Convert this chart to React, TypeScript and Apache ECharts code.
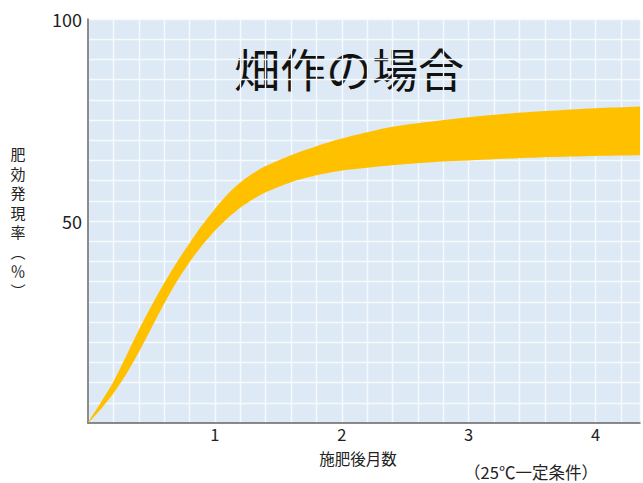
import React, { useEffect, useRef } from "react";
import * as echarts from "echarts";

// months after fertilization
const MONTHS = [0, 0.1, 0.2, 0.3, 0.4, 0.5, 0.6, 0.7, 0.8, 0.9, 1.0, 1.1, 1.2, 1.3, 1.4, 1.6, 1.8, 2.0, 2.4, 2.8, 3.2, 3.6, 4.0, 4.4, 4.6];
// upper edge of the band (%)
const UPPER = [0, 5.0, 10.2, 16.5, 23.0, 29.0, 34.6, 39.8, 44.5, 49.0, 53.0, 56.6, 59.5, 61.8, 63.6, 66.3, 68.5, 70.4, 73.3, 75.0, 76.3, 77.2, 77.9, 78.4, 78.6];
// lower edge of the band (%)
const LOWER = [0, 3.4, 7.3, 12.0, 17.5, 23.5, 29.5, 35.0, 39.8, 44.0, 47.6, 50.7, 53.3, 55.4, 57.1, 59.6, 61.3, 62.5, 63.8, 64.7, 65.3, 65.8, 66.1, 66.3, 66.4];

const X_LABELS = [1, 2, 3, 4];
const Y_LABELS = [50, 100];

const TITLE = "畑作の場合";
const Y_NAME = ["肥", "効", "発", "現", "率", "︵", "％", "︶"];
const X_NAME = "施肥後月数";
const NOTE = "（25℃一定条件）";

const FONT = '"Noto Sans CJK JP", "Noto Sans", sans-serif';

export default function App() {
  const ref = useRef<HTMLDivElement>(null);

  useEffect(() => {
    document.body.style.margin = "0";
    if (!ref.current) return;
    const chart = echarts.init(ref.current, null, { renderer: "svg" });

    const bandData = MONTHS.map((m, i) => [m, LOWER[i], UPPER[i]]);

    chart.setOption({
      animation: false,
      backgroundColor: "#ffffff",
      grid: {
        left: 88,
        top: 19,
        right: 0,
        bottom: 60,
        show: true,
        backgroundColor: "#DDEAF5",
        borderWidth: 0,
      },
      xAxis: {
        type: "value",
        min: 0,
        max: 4.35,
        interval: 0.2,
        axisLine: { show: true, onZero: false, lineStyle: { color: "#666666", width: 1.5 } },
        axisTick: { show: false },
        splitLine: { show: true, lineStyle: { color: "#F7FAFD", width: 1.4 } },
        axisLabel: {
          margin: 3,
          fontSize: 16.5,
          lineHeight: 15,
          color: "#222",
          fontFamily: FONT,
          formatter: (v: number) => {
            const r = Math.round(v);
            return Math.abs(v - r) < 1e-6 && X_LABELS.includes(r) ? String(r) : "";
          },
        },
      },
      yAxis: {
        type: "value",
        min: 0,
        max: 100,
        interval: 5,
        axisLine: { show: true, onZero: false, lineStyle: { color: "#666666", width: 1.5 } },
        axisTick: { show: false },
        splitLine: { show: true, lineStyle: { color: "#F7FAFD", width: 1.4 } },
        axisLabel: {
          margin: 6,
          fontSize: 18,
          color: "#222",
          fontFamily: FONT,
          formatter: (v: number) => {
            const r = Math.round(v);
            return Math.abs(v - r) < 1e-6 && Y_LABELS.includes(r) ? String(r) : "";
          },
        },
      },
      series: [
        {
          type: "custom",
          data: bandData,
          encode: { x: 0, y: [1, 2] },
          renderItem: (params: any, api: any) => {
            if (params.dataIndex !== 0) return null;
            const up = MONTHS.map((m, i) => api.coord([m, UPPER[i]]));
            const lo = MONTHS.map((m, i) => api.coord([m, LOWER[i]])).slice(1).reverse();
            const cs = params.coordSys;
            return {
              type: "polygon",
              shape: { points: [...up, ...lo], smooth: 0.25 },
              style: { fill: "#FFC000", stroke: null },
              clipPath: {
                type: "rect",
                shape: { x: cs.x, y: cs.y, width: cs.width, height: cs.height },
              },
            };
          },
        },
      ],
      graphic: [
        {
          type: "text",
          x: 349,
          y: 67,
          style: {
            text: TITLE,
            fontSize: 46,
            fontFamily: FONT,
            fill: "#111",
            textAlign: "center",
            textVerticalAlign: "middle",
          },
        },
        {
          type: "text",
          x: 18,
          y: 144,
          style: {
            text: Y_NAME.join("\n"),
            fontSize: 15,
            lineHeight: 19.5,
            fontFamily: FONT,
            fill: "#222",
            textAlign: "center",
          },
        },
        {
          type: "text",
          x: 358,
          y: 458,
          style: {
            text: X_NAME,
            fontSize: 15.5,
            lineHeight: 16,
            fontFamily: FONT,
            fill: "#222",
            textAlign: "center",
            textVerticalAlign: "middle",
          },
        },
        {
          type: "text",
          x: 531,
          y: 472,
          style: {
            text: NOTE,
            fontSize: 16.5,
            lineHeight: 17,
            fontFamily: FONT,
            fill: "#222",
            textAlign: "center",
            textVerticalAlign: "middle",
          },
        },
      ],
    });

    return () => chart.dispose();
  }, []);

  return <div ref={ref} style={{ width: 643, height: 483 }} />;
}
